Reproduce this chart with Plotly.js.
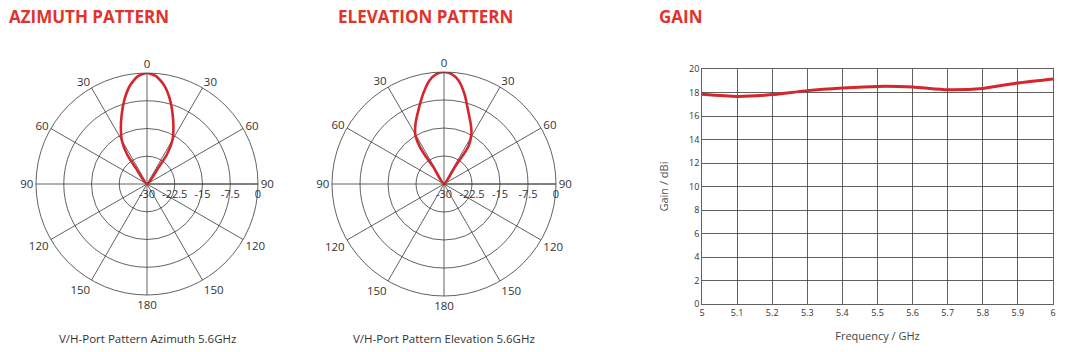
<!DOCTYPE html>
<html>
<head>
<meta charset="utf-8">
<script src="https://cdn.plot.ly/plotly-3.0.1.min.js"></script>
<style>
html,body{margin:0;padding:0;background:#fff;}
#chart{width:1067px;height:352px;}
</style>
</head>
<body>
<div id="chart"></div>
<script>
// Azimuth pattern (degrees, dB)
const azTheta = [-36, -35, -34, -30, -25, -20, -15, -10, -5, 0, 5, 10, 15, 20, 25, 30, 34, 35, 36];
const azGain  = [-30, -24.5, -20.5, -16.4, -13.3, -10.0, -6.4, -3.1, -0.8, 0, -0.8, -3.0, -6.2, -9.8, -13.1, -16.2, -20.3, -24.4, -30];

// Elevation pattern (degrees, dB)
const elTheta = [-31, -32, -33.5, -33, -30, -25, -19, -13, -8, -4, 0, 4, 8, 13, 18, 24, 28.5, 33, 32.5, 31];
const elGain  = [-30, -24.5, -21, -18, -14.6, -12.0, -9.0, -5.2, -2.0, -0.5, 0, -0.5, -2.0, -5.4, -9.2, -12.4, -14.6, -18, -24.5, -30];

// Gain vs frequency
const freq = [5.0, 5.1, 5.2, 5.3, 5.4, 5.5, 5.6, 5.7, 5.8, 5.9, 6.0];
const gain = [17.85, 17.67, 17.82, 18.16, 18.38, 18.52, 18.47, 18.24, 18.35, 18.81, 19.15];

const angTickVals = [0, 30, 60, 90, 120, 150, 180, 210, 240, 270, 300, 330];
const angTickText = ['0', '30', '60', '90', '120', '150', '180', '150', '120', '90', '60', '30'];
const radTickVals = [-30, -22.5, -15, -7.5, 0];
const radTickText = ['-30', '-22.5', '-15', '-7.5', '0'];

const red = '#d4262c';
const gridC = '#3a3a3a';
const fontFam = 'Open Sans, Noto Sans, sans-serif';

function polarLayout(domX, domY) {
  return {
    domain: {x: domX, y: domY},
    bgcolor: 'rgba(0,0,0,0)',
    radialaxis: {
      range: [-30, 0],
      tickmode: 'array', tickvals: radTickVals, ticktext: radTickText,
      angle: 0, side: 'clockwise', tickangle: 0,
      showline: true, linecolor: gridC, linewidth: 0.8,
      gridcolor: gridC, gridwidth: 0.8,
      ticks: '', tickfont: {family: fontFam, size: 11, color: '#333'}
    },
    angularaxis: {
      rotation: 90, direction: 'clockwise',
      tickmode: 'array', tickvals: angTickVals, ticktext: angTickText,
      showline: true, linecolor: gridC, linewidth: 0.8,
      gridcolor: gridC, gridwidth: 0.8,
      ticks: '', tickfont: {family: fontFam, size: 11.5, color: '#333'}
    }
  };
}

const traces = [
  {type: 'scatterpolar', theta: azTheta, r: azGain, mode: 'lines', subplot: 'polar',
   line: {color: red, width: 2.6, shape: 'spline', smoothing: 0.6}, hoverinfo: 'skip'},
  {type: 'scatterpolar', theta: elTheta, r: elGain, mode: 'lines', subplot: 'polar2',
   line: {color: red, width: 2.6, shape: 'spline', smoothing: 0.6}, hoverinfo: 'skip'},
  {type: 'scatter', x: freq, y: gain, mode: 'lines', xaxis: 'x', yaxis: 'y',
   line: {color: red, width: 3, shape: 'spline', smoothing: 0.6}, hoverinfo: 'skip'}
];

const layout = {
  width: 1067, height: 352,
  margin: {l: 0, r: 0, t: 0, b: 0},
  paper_bgcolor: '#fff', plot_bgcolor: '#fff',
  showlegend: false,
  font: {family: fontFam, color: '#333'},
  polar: polarLayout([36/1067, 258/1067], [57/352, 279/352]),
  polar2: polarLayout([332/1067, 556/1067], [56/352, 280/352]),
  xaxis: {
    domain: [702/1067, 1053/1067], range: [5, 6], dtick: 0.1, tick0: 5,
    showgrid: true, gridcolor: gridC, gridwidth: 0.8,
    showline: true, linecolor: gridC, linewidth: 0.8, mirror: true,
    zeroline: false, ticks: '', tickfont: {family: fontFam, size: 9, color: '#333'},
    title: {text: 'Frequency / GHz', font: {family: fontFam, size: 11, color: '#444'}, standoff: 14}
  },
  yaxis: {
    domain: [48/352, 283/352], range: [0, 20], dtick: 2,
    showgrid: true, gridcolor: gridC, gridwidth: 0.8,
    showline: true, linecolor: gridC, linewidth: 0.8, mirror: true,
    zeroline: false, ticks: '', tickfont: {family: fontFam, size: 9, color: '#333'},
    title: {text: 'Gain / dBi', font: {family: fontFam, size: 11, color: '#555'}, standoff: 18}
  },
  annotations: [
    {text: '<b>AZIMUTH PATTERN</b>', x: 7/1067, y: 0.952, xref: 'paper', yref: 'paper',
     xanchor: 'left', yanchor: 'middle', showarrow: false, font: {family: fontFam, size: 17, color: '#e0332c'}},
    {text: '<b>ELEVATION PATTERN</b>', x: 336/1067, y: 0.952, xref: 'paper', yref: 'paper',
     xanchor: 'left', yanchor: 'middle', showarrow: false, font: {family: fontFam, size: 17, color: '#e0332c'}},
    {text: '<b>GAIN</b>', x: 657/1067, y: 0.952, xref: 'paper', yref: 'paper',
     xanchor: 'left', yanchor: 'middle', showarrow: false, font: {family: fontFam, size: 17, color: '#e0332c'}},
    {text: 'V/H-Port Pattern Azimuth 5.6GHz', x: 147/1067, y: 14/352, xref: 'paper', yref: 'paper',
     xanchor: 'center', yanchor: 'middle', showarrow: false, font: {family: fontFam, size: 11.5, color: '#333'}},
    {text: 'V/H-Port Pattern Elevation 5.6GHz', x: 444/1067, y: 14/352, xref: 'paper', yref: 'paper',
     xanchor: 'center', yanchor: 'middle', showarrow: false, font: {family: fontFam, size: 11.5, color: '#333'}}
  ]
};

Plotly.newPlot('chart', traces, layout, {staticPlot: true, displayModeBar: false});
</script>
</body>
</html>
